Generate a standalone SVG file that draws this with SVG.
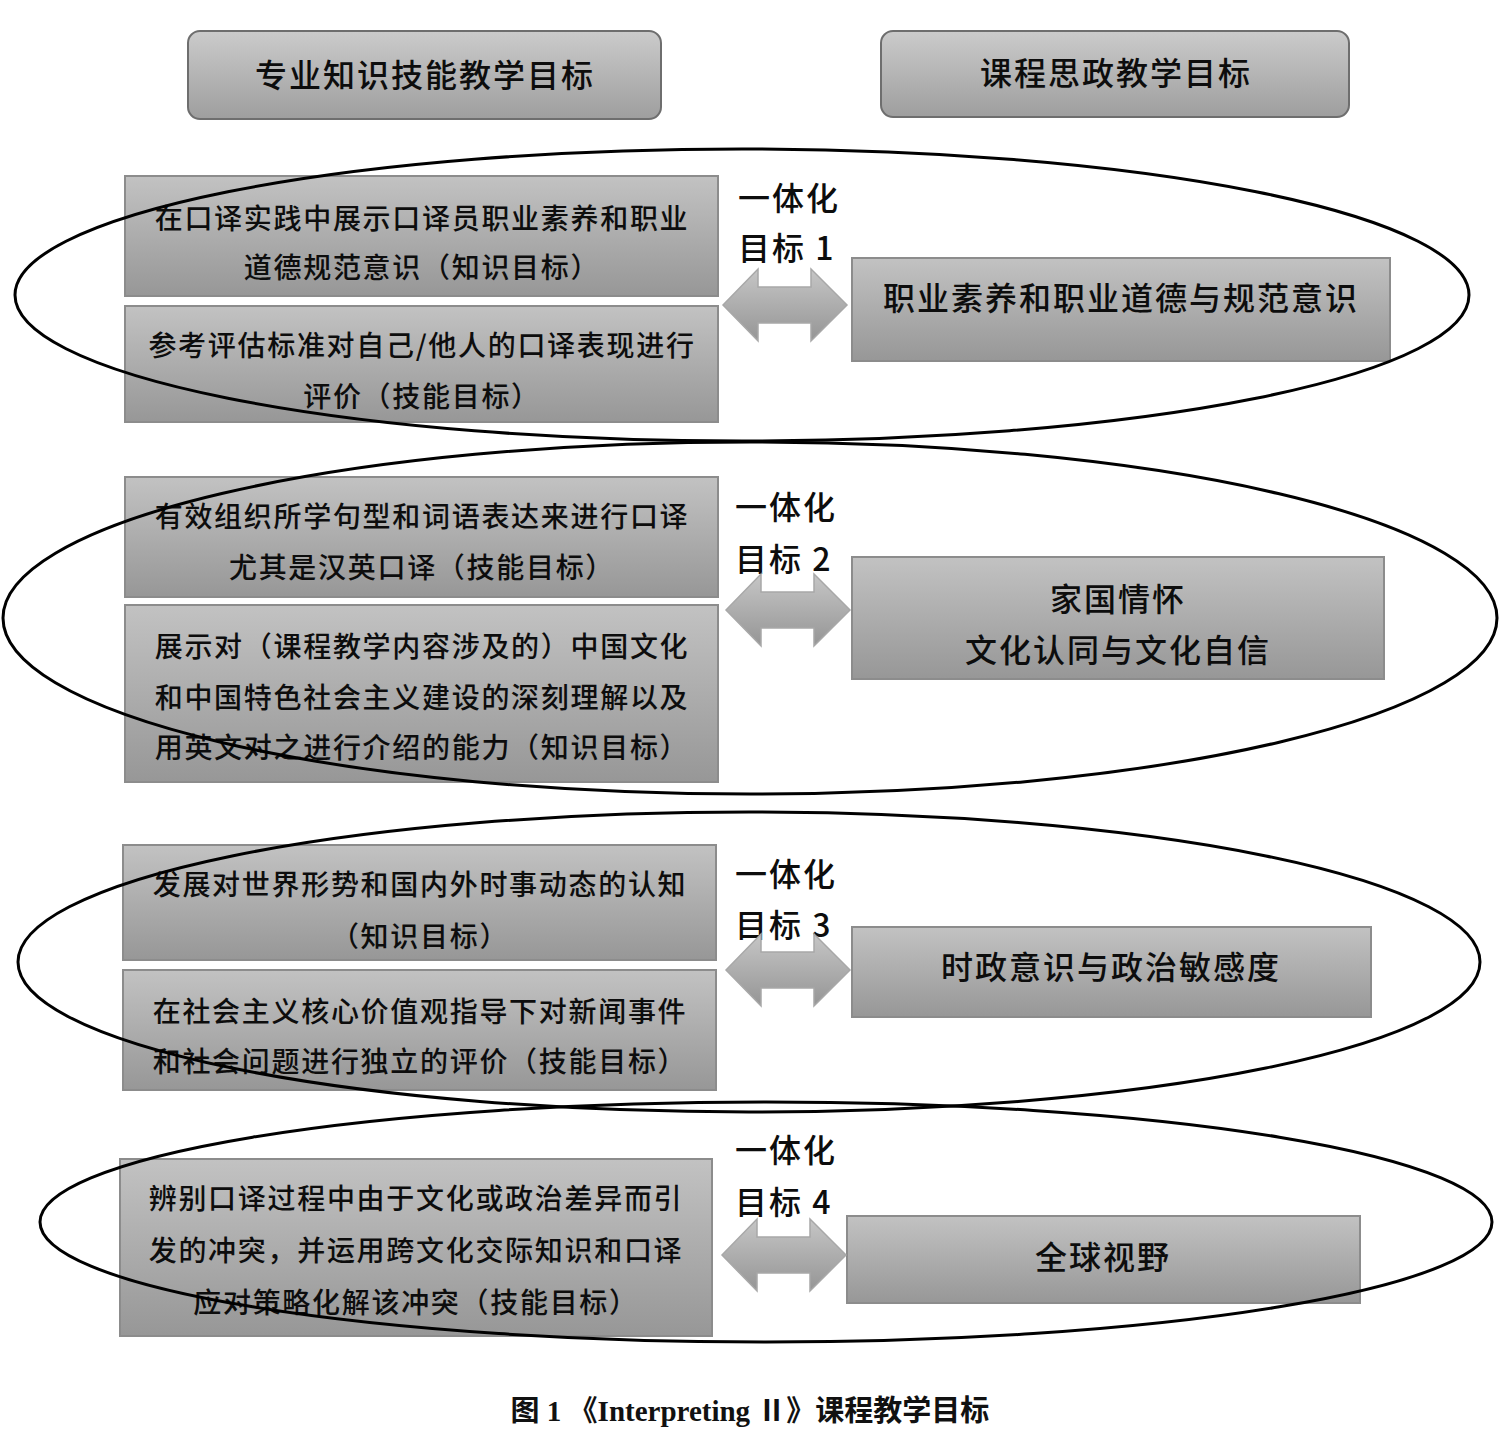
<svg xmlns="http://www.w3.org/2000/svg" width="1500" height="1453" viewBox="0 0 1500 1453">
<defs>
<linearGradient id="gBox" x1="0" y1="0" x2="0" y2="1">
<stop offset="0" stop-color="#c2c2c2"/>
<stop offset="1" stop-color="#979797"/>
</linearGradient>
<linearGradient id="gHead" x1="0" y1="0" x2="0" y2="1">
<stop offset="0" stop-color="#cbcbcb"/>
<stop offset="1" stop-color="#9e9e9e"/>
</linearGradient>
<linearGradient id="gArrow" x1="0" y1="0" x2="0" y2="1">
<stop offset="0" stop-color="#c6c6c6"/>
<stop offset="1" stop-color="#959595"/>
</linearGradient>
<path id="arrowShape" d="M0,0 L35,-36 L35,-18 L88,-18 L88,-36 L124,0 L88,36 L88,18 L35,18 L35,36 Z"/>
</defs>
<style>
.box{fill:url(#gBox);stroke:#8c8c8c;stroke-width:2}
.head{fill:url(#gHead);stroke:#6e6e6e;stroke-width:2}
.t{font-family:"Noto Sans CJK SC","Liberation Sans",sans-serif;font-weight:500;fill:#0d0d0d;text-anchor:middle;dominant-baseline:central}
.s28{font-size:28px;letter-spacing:1.7px}
.s32{font-size:32px;letter-spacing:2px}
.lab{font-family:"Noto Sans CJK SC","Liberation Sans",sans-serif;font-weight:500;font-size:32px;fill:#0d0d0d;dominant-baseline:central;letter-spacing:2px}
.ell{fill:none;stroke:#000;stroke-width:3}
.arr{fill:url(#gArrow);stroke:#a8a8a8;stroke-width:1.5}
.cap{font-family:"Liberation Serif","Noto Sans CJK SC",serif;font-size:29px;font-weight:bold;fill:#111;text-anchor:middle;dominant-baseline:central}
</style>
<rect width="1500" height="1453" fill="#fff"/>

<g id="header-left">
<rect class="head" x="188" y="31" width="473" height="88" rx="12"/>
<text class="t s32" x="425" y="73">专业知识技能教学目标</text>
</g>
<g id="header-right">
<rect class="head" x="881" y="31" width="468" height="86" rx="12"/>
<text class="t s32" x="1116" y="71">课程思政教学目标</text>
</g>

<g id="box-1a">
<rect class="box" x="125" y="176" width="593" height="120"/>
<text class="t s28" x="422" y="217">在口译实践中展示口译员职业素养和职业</text>
<text class="t s28" x="422" y="266">道德规范意识（知识目标）</text>
</g>
<g id="box-1b">
<rect class="box" x="125" y="306" width="593" height="116"/>
<text class="t s28" x="422" y="344">参考评估标准对自己/他人的口译表现进行</text>
<text class="t s28" x="422" y="395">评价（技能目标）</text>
</g>
<g id="label-1">
<text class="lab" x="738" y="196">一体化</text>
<text class="lab" x="738" y="246">目标 1</text>
</g>
<g id="box-1r">
<rect class="box" x="852" y="258" width="538" height="103"/>
<text class="t s32" x="1121" y="296">职业素养和职业道德与规范意识</text>
</g>

<g id="box-2a">
<rect class="box" x="125" y="477" width="593" height="120"/>
<text class="t s28" x="422" y="515">有效组织所学句型和词语表达来进行口译</text>
<text class="t s28" x="422" y="566">尤其是汉英口译（技能目标）</text>
</g>
<g id="box-2b">
<rect class="box" x="125" y="605" width="593" height="177"/>
<text class="t s28" x="422" y="645">展示对（课程教学内容涉及的）中国文化</text>
<text class="t s28" x="422" y="696">和中国特色社会主义建设的深刻理解以及</text>
<text class="t s28" x="422" y="746">用英文对之进行介绍的能力（知识目标）</text>
</g>
<g id="label-2">
<text class="lab" x="735" y="505">一体化</text>
<text class="lab" x="735" y="557">目标 2</text>
</g>
<g id="box-2r">
<rect class="box" x="852" y="557" width="532" height="122"/>
<text class="t s32" x="1118" y="597">家国情怀</text>
<text class="t s32" x="1118" y="648">文化认同与文化自信</text>
</g>

<g id="box-3a">
<rect class="box" x="123" y="845" width="593" height="115"/>
<text class="t s28" x="420" y="883">发展对世界形势和国内外时事动态的认知</text>
<text class="t s28" x="420" y="935">（知识目标）</text>
</g>
<g id="box-3b">
<rect class="box" x="123" y="970" width="593" height="120"/>
<text class="t s28" x="420" y="1010">在社会主义核心价值观指导下对新闻事件</text>
<text class="t s28" x="420" y="1060">和社会问题进行独立的评价（技能目标）</text>
</g>
<g id="label-3">
<text class="lab" x="735" y="872">一体化</text>
<text class="lab" x="735" y="923">目标 3</text>
</g>
<g id="box-3r">
<rect class="box" x="852" y="927" width="519" height="90"/>
<text class="t s32" x="1111" y="965">时政意识与政治敏感度</text>
</g>

<g id="box-4a">
<rect class="box" x="120" y="1159" width="592" height="177"/>
<text class="t s28" x="416" y="1197">辨别口译过程中由于文化或政治差异而引</text>
<text class="t s28" x="416" y="1249">发的冲突，并运用跨文化交际知识和口译</text>
<text class="t s28" x="416" y="1301">应对策略化解该冲突（技能目标）</text>
</g>
<g id="label-4">
<text class="lab" x="735" y="1148">一体化</text>
<text class="lab" x="735" y="1200">目标 4</text>
</g>
<g id="box-4r">
<rect class="box" x="847" y="1216" width="513" height="87"/>
<text class="t s32" x="1103" y="1255">全球视野</text>
</g>

<g id="connectors">
<use href="#arrowShape" class="arr" transform="translate(723,305)"/>
<use href="#arrowShape" class="arr" transform="translate(726,610)"/>
<use href="#arrowShape" class="arr" transform="translate(726,970)"/>
<use href="#arrowShape" class="arr" transform="translate(722,1255)"/>
</g>

<g id="ellipses">
<ellipse class="ell" cx="742" cy="295" rx="727" ry="146"/>
<ellipse class="ell" cx="750" cy="618" rx="747" ry="176"/>
<ellipse class="ell" cx="749" cy="962" rx="731" ry="150"/>
<ellipse class="ell" cx="766" cy="1222" rx="726" ry="120"/>
</g>

<g id="caption">
<text class="cap" x="750" y="1411">图 1 《Interpreting Ⅱ》课程教学目标</text>
</g>
</svg>
